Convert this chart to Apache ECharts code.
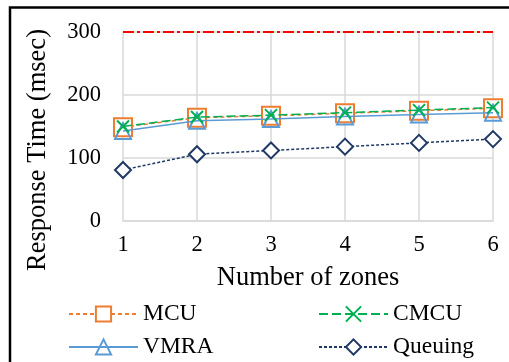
<!DOCTYPE html>
<html>
<head>
<meta charset="utf-8">
<style>
  html, body { margin: 0; padding: 0; background: #fff; }
  #chart { width: 509px; height: 362px; }
</style>
<script src="https://cdn.jsdelivr.net/npm/echarts@6/dist/echarts.min.js"></script>
</head>
<body>
<div id="chart"></div>
<script>
// Response time versus number of zones
const zones = ['1', '2', '3', '4', '5', '6'];
const mcu = [149, 164, 167, 171, 175, 179];
const cmcu = [150, 165, 168, 172, 176, 180];
const vmra = [143, 159, 162, 166, 169, 172];
const queuing = [81, 106, 112, 118, 124, 130];
const threshold = [300, 300, 300, 300, 300, 300];
const yTicks = [0, 100, 200, 300];

const FONT = '"Liberation Serif", "Times New Roman", serif';
const GRID = '#d9d9d9';
const C_MCU = '#ED7D31';
const C_CMCU = '#00B050';
const C_VMRA = '#5B9BD5';
const C_Q = '#1F3864';

const chart = echarts.init(document.getElementById('chart'), null, { renderer: 'canvas' });

function legendAt(name, left, top) {
  return {
    data: [name],
    left: left,
    top: top,
    padding: 0,
    itemWidth: 69,
    itemHeight: 19,
    selectedMode: false,
    textStyle: { fontFamily: FONT, fontSize: 23.5, color: '#000' }
  };
}

chart.setOption({
  animation: false,
  backgroundColor: '#fff',
  grid: { left: 123, right: 16, top: 32, bottom: 141 },
  legend: [
    legendAt('MCU', 68, 302),
    legendAt('CMCU', 318, 302),
    legendAt('VMRA', 68, 335),
    legendAt('Queuing', 318, 335)
  ],
  xAxis: {
    type: 'category',
    data: zones,
    boundaryGap: false,
    name: 'Number of zones',
    nameLocation: 'middle',
    nameGap: 44,
    nameTextStyle: { fontFamily: FONT, fontSize: 26.5, color: '#000' },
    axisLine: { show: true, lineStyle: { color: GRID, width: 1.5 } },
    axisTick: { show: false },
    axisLabel: { fontFamily: FONT, fontSize: 22.5, color: '#000', margin: 13 },
    splitLine: { show: true, lineStyle: { color: GRID, width: 1.5 } }
  },
  yAxis: {
    type: 'value',
    min: yTicks[0],
    max: yTicks[yTicks.length - 1],
    interval: 100,
    axisLine: { show: false },
    axisTick: { show: false },
    axisLabel: { fontFamily: FONT, fontSize: 22.5, color: '#000', margin: 22 },
    splitLine: { show: true, lineStyle: { color: GRID, width: 1.5 } }
  },
  graphic: [
    {
      type: 'text',
      x: 38, y: 150,
      rotation: Math.PI / 2,
      style: {
        text: 'Response Time (msec)',
        font: '26.5px ' + FONT,
        fill: '#000',
        textAlign: 'center',
        textVerticalAlign: 'middle'
      }
    },
    {
      type: 'polyline',
      shape: { points: [[10, 362], [10, 7.5], [509, 7.5]] },
      style: { stroke: '#000', lineWidth: 2.5, fill: 'none' }
    }
  ],
  series: [
    {
      name: 'Threshold',
      type: 'line',
      data: threshold,
      symbol: 'none',
      z: 1,
      lineStyle: { color: '#FF0000', width: 2, type: [11, 3, 3, 3] }
    },
    {
      name: 'MCU',
      type: 'line',
      data: mcu,
      symbol: 'rect',
      symbolSize: 18,
      itemStyle: { color: '#fff', borderColor: C_MCU, borderWidth: 2 },
      lineStyle: { color: C_MCU, width: 1.5, type: [4, 3] },
      z: 2
    },
    {
      name: 'CMCU',
      type: 'line',
      data: cmcu,
      symbol: 'path://M0,0L10,10M10,0L0,10',
      symbolSize: 12,
      itemStyle: { color: C_CMCU, borderColor: C_CMCU, borderWidth: 2 },
      lineStyle: { color: C_CMCU, width: 1.5, type: [9, 4] },
      z: 4
    },
    {
      name: 'VMRA',
      type: 'line',
      data: vmra,
      symbol: 'triangle',
      symbolSize: 16,
      itemStyle: { color: 'rgba(255,255,255,0)', borderColor: C_VMRA, borderWidth: 2 },
      lineStyle: { color: C_VMRA, width: 1.5, type: 'solid' },
      z: 3
    },
    {
      name: 'Queuing',
      type: 'line',
      data: queuing,
      symbol: 'diamond',
      symbolSize: 16,
      itemStyle: { color: '#fff', borderColor: C_Q, borderWidth: 2 },
      lineStyle: { color: C_Q, width: 1.5, type: [3, 2] },
      z: 3
    }
  ]
});
</script>
</body>
</html>
